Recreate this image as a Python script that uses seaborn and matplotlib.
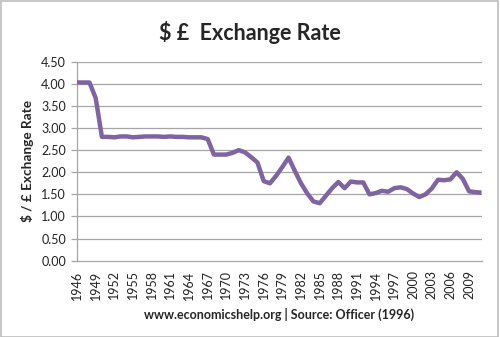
import matplotlib
matplotlib.use("Agg")
import matplotlib.pyplot as plt
import seaborn as sns
import pandas as pd
from matplotlib.patches import Rectangle

years = list(range(1946, 2012))
rates = [4.03, 4.03, 4.03, 3.68, 2.80, 2.80, 2.79, 2.81, 2.81, 2.79,
         2.80, 2.81, 2.81, 2.81, 2.80, 2.81, 2.80, 2.80, 2.79, 2.79,
         2.79, 2.75, 2.40, 2.40, 2.40, 2.44, 2.50, 2.45, 2.34, 2.22,
         1.80, 1.75, 1.92, 2.12, 2.33, 2.03, 1.75, 1.52, 1.34, 1.30,
         1.47, 1.64, 1.78, 1.64, 1.79, 1.77, 1.77, 1.50, 1.53, 1.58,
         1.56, 1.64, 1.66, 1.62, 1.52, 1.44, 1.50, 1.63, 1.83, 1.82,
         1.84, 2.00, 1.85, 1.57, 1.55, 1.54]
yticks = [0.0, 0.5, 1.0, 1.5, 2.0, 2.5, 3.0, 3.5, 4.0, 4.5]
xticks = list(range(1946, 2012, 3))
title = "$ £  Exchange Rate"
ylabel = "$ / £ Exchange Rate"
xlabel = "www.economicshelp.org | Source: Officer (1996)"

df = pd.DataFrame({"year": years, "rate": rates})

sns.set_style("white")
plt.rcParams["font.family"] = ["Lato", "DejaVu Sans"]

fig = plt.figure(figsize=(5.0, 3.37), dpi=100)
ax = fig.add_axes([0.154, 0.2264, 0.809, 0.5905])

grid_c = "#a6a6a6"
for v in yticks[1:]:
    ax.axhline(v, color=grid_c, lw=0.9, zorder=0)

sns.lineplot(data=df, x="year", y="rate", ax=ax, color="#8064a2", lw=3.2,
             solid_joinstyle="round", solid_capstyle="butt", zorder=3)

ax.set_xlim(1946, 2011)
ax.set_ylim(0, 4.5)
ax.set_yticks(yticks)
ax.set_yticklabels([f"{v:.2f}" for v in yticks], fontsize=9, color="#222222")
ax.set_xticks(xticks)
ax.set_xticklabels([str(y) for y in xticks], rotation=90, fontsize=9, color="#222222")
ax.tick_params(axis="y", length=4, width=0.9, color=grid_c, pad=4, direction="out", left=True)
ax.tick_params(axis="x", length=0, pad=7)

for s in ["top", "right"]:
    ax.spines[s].set_visible(False)
for s in ["left", "bottom"]:
    ax.spines[s].set_color(grid_c)
    ax.spines[s].set_linewidth(0.9)

ax.set_ylabel(ylabel, fontsize=9.8, fontweight="bold", labelpad=5)
ax.set_xlabel(xlabel, fontsize=9, fontweight="bold", labelpad=6)

fig.text(0.5, 0.905, title, ha="center", va="center", fontsize=15.5, fontweight="bold")

fig.patches.append(Rectangle((0.001, 0.001), 0.994, 0.997, transform=fig.transFigure,
                             fill=False, edgecolor="#bdbdbd", lw=1.2))

fig.savefig("out.png", dpi=100)
